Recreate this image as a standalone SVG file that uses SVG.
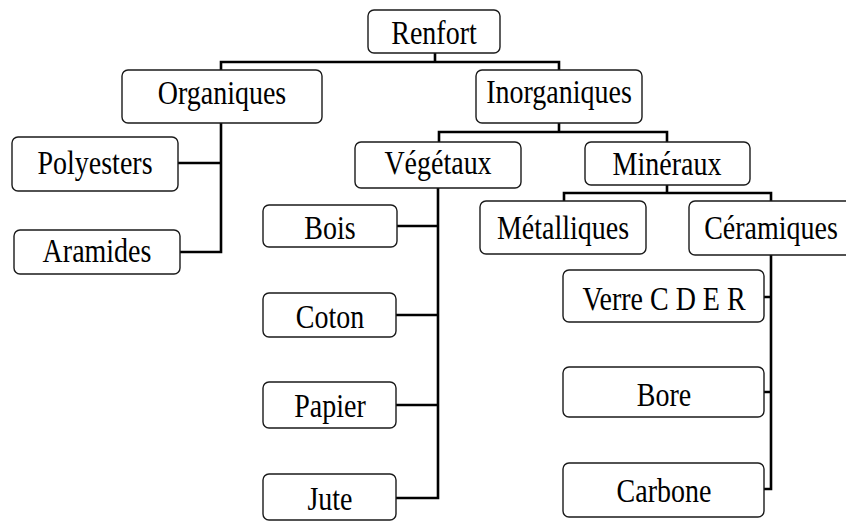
<svg xmlns="http://www.w3.org/2000/svg" width="846" height="521" viewBox="0 0 846 521">
<style>
.box{fill:#fff;stroke:#1a1a1a;stroke-width:1.4}
.lbl{font-family:"Liberation Serif","Times New Roman",serif;font-size:28px;fill:#000;text-anchor:middle}
.conn{fill:none;stroke:#000;stroke-width:2.6;stroke-linejoin:miter;stroke-linecap:square}
</style>
<rect width="846" height="521" fill="#fff"/>
<g id="connectors" class="conn">
<path d="M435,53 V62 M221,70 V62 H559 V70"/>
<path d="M221,123 V252 M178,163 H221 M180,252 H221"/>
<path d="M559,123 V132 M439,142 V132 H667 V142"/>
<path d="M438,188 V498 M397,226 H438 M396,315 H438 M396,405 H438 M396,498 H438"/>
<path d="M667,185 V193 M564,201 V193 H771 V201"/>
<path d="M771,255 V489 M764,297 H771 M764,392 H771 M764,489 H771"/>
</g>
<g id="renfort"><rect class="box" x="368" y="10" width="132" height="43" rx="6"/><text class="lbl" transform="translate(434,43.5) scale(1,1.18)">Renfort</text></g>
<g id="organiques"><rect class="box" x="122" y="70" width="200" height="53" rx="6"/><text class="lbl" transform="translate(222,104) scale(1,1.18)">Organiques</text></g>
<g id="inorganiques"><rect class="box" x="476" y="70" width="166" height="53" rx="6"/><text class="lbl" transform="translate(559,103) scale(1,1.18)">Inorganiques</text></g>
<g id="polyesters"><rect class="box" x="12" y="137" width="166" height="54" rx="6"/><text class="lbl" transform="translate(95,173.5) scale(1,1.18)">Polyesters</text></g>
<g id="aramides"><rect class="box" x="14" y="230" width="166" height="44" rx="6"/><text class="lbl" transform="translate(97,262) scale(1,1.18)">Aramides</text></g>
<g id="vegetaux"><rect class="box" x="355" y="142" width="166" height="46" rx="6"/><text class="lbl" transform="translate(438,174) scale(1,1.18)">Végétaux</text></g>
<g id="mineraux"><rect class="box" x="585" y="142" width="165" height="43" rx="6"/><text class="lbl" transform="translate(667,175) scale(1,1.18)">Minéraux</text></g>
<g id="metalliques"><rect class="box" x="480" y="201" width="166" height="53" rx="6"/><text class="lbl" transform="translate(563,238.5) scale(1,1.18)">Métalliques</text></g>
<g id="ceramiques"><rect class="box" x="689" y="201" width="164" height="54" rx="6"/><text class="lbl" transform="translate(771,239) scale(1,1.18)">Céramiques</text></g>
<g id="bois"><rect class="box" x="263" y="205" width="134" height="42" rx="6"/><text class="lbl" transform="translate(330,239) scale(1,1.18)">Bois</text></g>
<g id="coton"><rect class="box" x="263" y="293" width="133" height="44" rx="6"/><text class="lbl" transform="translate(330,327.5) scale(1,1.18)">Coton</text></g>
<g id="papier"><rect class="box" x="263" y="382" width="133" height="46" rx="6"/><text class="lbl" transform="translate(330,417) scale(1,1.18)">Papier</text></g>
<g id="jute"><rect class="box" x="263" y="474" width="133" height="46" rx="6"/><text class="lbl" transform="translate(330,509.5) scale(1,1.18)">Jute</text></g>
<g id="verre"><rect class="box" x="563" y="270" width="201" height="52" rx="6"/><text class="lbl" transform="translate(664,309.5) scale(1,1.18)">Verre C D E R</text></g>
<g id="bore"><rect class="box" x="563" y="367" width="201" height="50" rx="6"/><text class="lbl" transform="translate(664,406) scale(1,1.18)">Bore</text></g>
<g id="carbone"><rect class="box" x="563" y="463" width="201" height="54" rx="6"/><text class="lbl" transform="translate(664,502) scale(1,1.18)">Carbone</text></g>
</svg>
